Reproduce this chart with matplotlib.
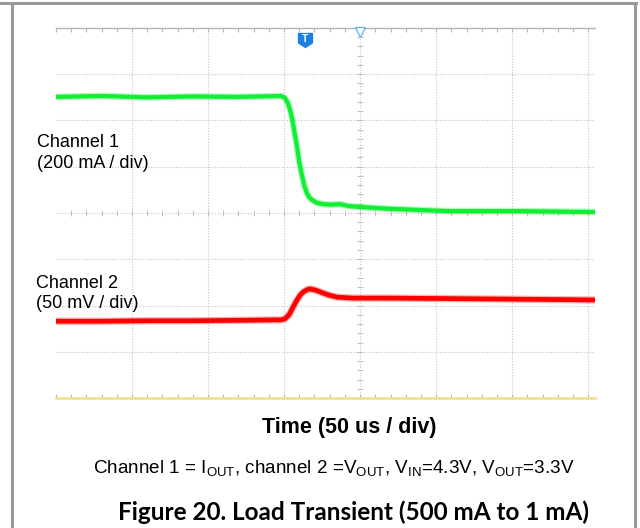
import numpy as np
import matplotlib.pyplot as plt
from matplotlib.lines import Line2D
from matplotlib.path import Path

plt.rcParams['font.family'] = ['Liberation Sans', 'DejaVu Sans']
plt.rcParams['mathtext.fontset'] = 'custom'
plt.rcParams['mathtext.rm'] = 'Liberation Sans'

# Time axis in scope divisions (50 us / div), vertical in divisions (8 total)
ch1_t = [0.00, 0.60, 1.20, 1.80, 2.40, 2.96, 3.01, 3.05, 3.08, 3.11, 3.14,
         3.17, 3.20, 3.24, 3.27, 3.30, 3.33, 3.37, 3.43, 3.52, 3.61, 3.74,
         3.85, 4.00, 4.39, 5.18, 6.11, 7.09]
ch1_v = [6.51, 6.53, 6.50, 6.52, 6.51, 6.53, 6.49, 6.38, 6.22, 6.01, 5.72,
         5.43, 5.10, 4.78, 4.57, 4.43, 4.34, 4.28, 4.22, 4.19, 4.18, 4.19,
         4.15, 4.13, 4.09, 4.04, 4.04, 4.02]

ch2_t = [0.00, 0.60, 1.20, 1.80, 2.40, 2.96, 3.01, 3.05, 3.08, 3.12, 3.17,
         3.21, 3.25, 3.30, 3.34, 3.42, 3.51, 3.60, 3.70, 3.91, 4.39, 5.84,
         7.09]
ch2_v = [1.66, 1.66, 1.67, 1.67, 1.68, 1.69, 1.71, 1.77, 1.84, 1.97, 2.12,
         2.22, 2.29, 2.34, 2.36, 2.33, 2.27, 2.22, 2.18, 2.16, 2.16, 2.14,
         2.12]

trigger_t = 3.28
x_max = 7.09
n_div = 8

fig = plt.figure(figsize=(6.4, 5.28), dpi=100)
ax = fig.add_axes([0.0875, 0.2462, 0.8422, 0.7008])
ax.set_xlim(0, x_max)
ax.set_ylim(0, n_div)

# dotted graticule
for gx in range(1, 8):
    ax.axvline(gx, color='#c4c4c4', lw=0.8, ls=(0, (1, 1.5)), zorder=1)
for gy in range(1, n_div):
    ax.axhline(gy, color='#c4c4c4', lw=0.8, ls=(0, (1, 1.5)), zorder=1)

# centre crosshair ticks
minor = np.arange(0.2, x_max, 0.2)
ax.plot(minor, np.full(len(minor), 4), ls='none', marker='|', ms=4,
        color='#c0c0c0', mew=0.7, zorder=1)
yminor = np.arange(0.2, n_div, 0.2)
ax.plot(np.full(len(yminor), 4), yminor, ls='none', marker='_', ms=4,
        color='#c0c0c0', mew=0.7, zorder=1)

# spines: grey top, yellow bottom, no sides
for s in ['left', 'right']:
    ax.spines[s].set_visible(False)
ax.spines['top'].set_color('#b4b4b4')
ax.spines['top'].set_linewidth(1.0)
ax.spines['bottom'].set_color('#eee48a')
ax.spines['bottom'].set_linewidth(2.0)
ax.set_xticks(np.arange(0, x_max, 0.2))
ax.tick_params(axis='x', which='both', top=True, bottom=True, direction='in',
               length=3, width=0.8, color='#b8b8b8', labelbottom=False)
ax.set_yticks([])

# traces
ax.plot(ch1_t, ch1_v, color='#22ee44', lw=4.8, alpha=0.35, solid_joinstyle='round', zorder=3)
ax.plot(ch1_t, ch1_v, color='#11ee33', lw=3.0, solid_joinstyle='round', zorder=4)
ax.plot(ch2_t, ch2_v, color='#ff2020', lw=5.2, alpha=0.35, solid_joinstyle='round', zorder=3)
ax.plot(ch2_t, ch2_v, color='#ff0000', lw=3.4, solid_joinstyle='round', zorder=4)

# trigger marker and time reference marker
shield = Path([(-1, 1), (1, 1), (1, -0.35), (0, -1), (-1, -0.35), (-1, 1)],
              [Path.MOVETO, Path.LINETO, Path.LINETO, Path.LINETO, Path.LINETO, Path.CLOSEPOLY])
ax.plot([trigger_t], [7.73], marker=shield, ms=10, color='#1e7fe0', mec='#1e7fe0', zorder=5)
ax.text(trigger_t, 7.77, 'T', color='white', fontsize=7.5, fontweight='bold',
        ha='center', va='center', zorder=6)
ax.plot([4], [7.92], marker='v', ms=7, mfc='white', mec='#6ab4ec', mew=1.0,
        clip_on=False, zorder=5)

# channel labels
fig.text(37 / 640, 1 - 147 / 528, 'Channel 1', fontsize=13, va='baseline')
fig.text(37 / 640, 1 - 168 / 528, '(200 mA / div)', fontsize=13, va='baseline')
fig.text(36 / 640, 1 - 288 / 528, 'Channel 2', fontsize=13, va='baseline')
fig.text(36 / 640, 1 - 308 / 528, '(50 mV / div)', fontsize=13, va='baseline')

# axis title and captions
fig.text(349 / 640, 1 - 433 / 528, 'Time (50 us / div)', fontsize=15.5,
         fontweight='bold', ha='center', va='baseline')
fig.text(334 / 640, 1 - 474 / 528,
         r'Channel 1 = I$_\mathrm{OUT}$, channel 2 =V$_\mathrm{OUT}$, '
         r'V$_\mathrm{IN}$=4.3V, V$_\mathrm{OUT}$=3.3V',
         fontsize=13.6, ha='center', va='baseline')
fig.text(353 / 640, 1 - 520 / 528, 'Figure 20. Load Transient (500 mA to 1 mA)',
         fontsize=17.5, fontweight='bold', family=['Lato', 'DejaVu Sans'],
         ha='center', va='baseline')

# outer frame
frame = dict(transform=fig.transFigure, color='#9a9a9a', lw=2.2)
fig.add_artist(Line2D([0, 636 / 640], [1 - 3 / 528, 1 - 3 / 528], **frame))
fig.add_artist(Line2D([12 / 640, 12 / 640], [0, 1 - 3 / 528], **frame))
fig.add_artist(Line2D([635 / 640, 635 / 640], [0, 1 - 3 / 528], **frame))

fig.savefig('out.png', dpi=100)
